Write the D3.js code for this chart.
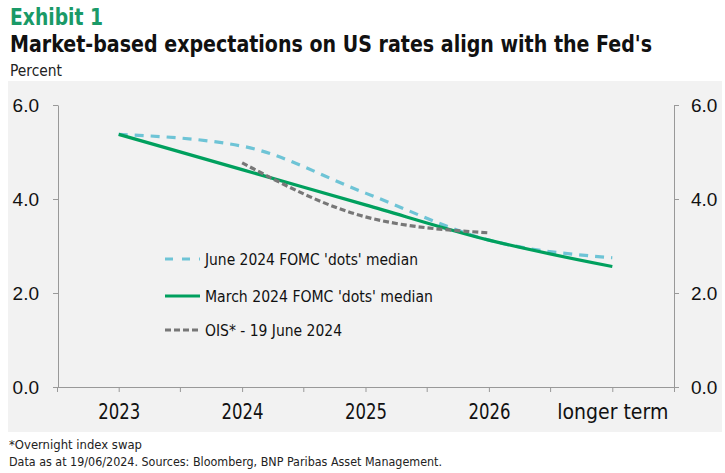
<!DOCTYPE html>
<html><head><meta charset="utf-8">
<script src="https://cdn.jsdelivr.net/npm/d3@7"></script>
<style>
body{margin:0;background:#fff;}
svg{display:block;}
.cond{font-family:"Liberation Sans Narrow","DejaVu Sans Condensed","Roboto",sans-serif;}
</style></head>
<body><svg id="c" width="725" height="473"></svg>
<script>
const categories = ["2023","2024","2025","2026","longer term"];
const juneDots = [5.375, 5.125, 4.125, 3.125, 2.75];
const marchDots = [5.375, 4.625, 3.875, 3.125, 2.5625];
const oisCats = ["2024","2025","2026"];
const oisValues = [4.77, 3.62, 3.28];
const yTicks = [0, 2, 4, 6];
const seriesNames = ["June 2024 FOMC 'dots' median","March 2024 FOMC 'dots' median","OIS* - 19 June 2024"];

const svg = d3.select("#c");
const green = "#00a05e", blue = "#6ec4d6", grey = "#777777";

svg.append("rect").attr("x",8).attr("y",81).attr("width",714).attr("height",351).attr("fill","#f2f2f2");

svg.append("text").attr("class","cond").attr("x",10).attr("y",25).attr("font-size",23).attr("font-weight","bold")
  .attr("fill","#1a9a68").attr("textLength",93).attr("lengthAdjust","spacingAndGlyphs").text("Exhibit 1");
svg.append("text").attr("class","cond").attr("x",10).attr("y",52).attr("font-size",23).attr("font-weight","bold")
  .attr("fill","#111").attr("textLength",642).attr("lengthAdjust","spacingAndGlyphs")
  .text("Market-based expectations on US rates align with the Fed's");
svg.append("text").attr("class","cond").attr("x",10).attr("y",76).attr("font-size",15)
  .attr("fill","#222").attr("textLength",52).attr("lengthAdjust","spacingAndGlyphs").text("Percent");

const x = d3.scalePoint().domain(categories).range([57,674]).padding(0.5);
const y = d3.scaleLinear().domain([0,6]).range([387,105]);

const axisFont = "'Liberation Sans', Arial, sans-serif";
const gl = svg.append("g").attr("transform","translate(58,0)")
  .call(d3.axisLeft(y).tickValues(yTicks).tickFormat(d3.format(".1f")).tickSize(5).tickSizeOuter(0).tickPadding(14));
const gr = svg.append("g").attr("transform","translate(674,0)")
  .call(d3.axisRight(y).tickValues(yTicks).tickFormat(d3.format(".1f")).tickSize(5).tickSizeOuter(0).tickPadding(12));
[gl,gr].forEach(g=>{
  g.selectAll("path,line").attr("stroke","#999");
  g.selectAll("text").attr("font-family",axisFont).attr("font-size",19).attr("fill","#111");
});

const gx = svg.append("g").attr("transform","translate(0,387)")
  .call(d3.axisBottom(x).tickSize(5).tickSizeOuter(5).tickPadding(12));
gx.selectAll("path,line").attr("stroke","#999");
gx.selectAll("text").attr("class","cond").attr("font-size",21).attr("fill","#111")
  .each(function(d){ d3.select(this).attr("textLength", d==="longer term"?111:42).attr("lengthAdjust","spacingAndGlyphs"); });
gx.selectAll(".bnd").data(categories.slice(0,-1)).enter().append("line").attr("class","bnd")
  .attr("x1",d=>x(d)+x.step()/2).attr("x2",d=>x(d)+x.step()/2).attr("y1",0).attr("y2",5).attr("stroke","#999");

const line = d3.line().x(d=>x(d[0])).y(d=>y(d[1])).curve(d3.curveMonotoneX);

svg.append("path").datum(categories.map((c,i)=>[c,juneDots[i]])).attr("d",line)
  .attr("fill","none").attr("stroke",blue).attr("stroke-width",3.2).attr("stroke-dasharray","9,7");
svg.append("path").datum(categories.map((c,i)=>[c,marchDots[i]])).attr("d",line)
  .attr("fill","none").attr("stroke",green).attr("stroke-width",3.2);
svg.append("path").datum(oisCats.map((c,i)=>[c,oisValues[i]])).attr("d",line)
  .attr("fill","none").attr("stroke",grey).attr("stroke-width",3.2).attr("stroke-dasharray","6,3");

const legY = [259,296,330];
const legW = [213,228,137];
const styles = [{c:blue,d:"8,9"},{c:green,d:null},{c:grey,d:"6,3"}];
const lg = svg.append("g");
seriesNames.forEach((n,i)=>{
  const l = lg.append("line").attr("x1",165).attr("x2",200).attr("y1",legY[i]).attr("y2",legY[i])
    .attr("stroke",styles[i].c).attr("stroke-width",3.2);
  if(styles[i].d) l.attr("stroke-dasharray",styles[i].d);
  lg.append("text").attr("class","cond").attr("x",205).attr("y",legY[i]+5.5).attr("font-size",16).attr("fill","#111")
    .attr("textLength",legW[i]).attr("lengthAdjust","spacingAndGlyphs").text(n);
});

svg.append("text").attr("class","cond").attr("x",9).attr("y",449).attr("font-size",13).attr("fill","#222")
  .attr("textLength",133).attr("lengthAdjust","spacingAndGlyphs").text("*Overnight index swap");
svg.append("text").attr("class","cond").attr("x",9).attr("y",466).attr("font-size",13).attr("fill","#222")
  .attr("textLength",433).attr("lengthAdjust","spacingAndGlyphs")
  .text("Data as at 19/06/2024. Sources: Bloomberg, BNP Paribas Asset Management.");
</script></body></html>
